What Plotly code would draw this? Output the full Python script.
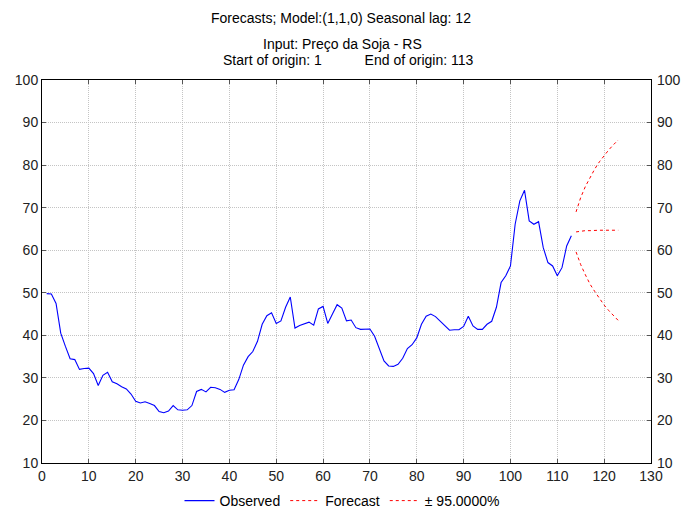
import plotly.graph_objects as go

# Observed series: soybean price (RS), periods 1..113
obs_x = list(range(1, 114))
obs_y = [
    49.8, 49.7, 47.5, 40.5, 37.4, 34.5, 34.3, 32.0, 32.2, 32.3,
    31.0, 28.2, 30.6, 31.3, 29.1, 28.6, 27.9, 27.4, 26.2, 24.5,
    24.1, 24.4, 24.0, 23.5, 22.1, 21.8, 22.2, 23.5, 22.5, 22.4,
    22.5, 23.5, 26.8, 27.3, 26.7, 27.8, 27.7, 27.3, 26.6, 27.1,
    27.2, 29.6, 33.0, 35.0, 36.2, 38.6, 42.6, 44.6, 45.3, 42.8,
    43.4, 46.6, 49.0, 41.7, 42.3, 42.7, 43.1, 42.4, 46.2, 46.8,
    42.8, 45.0, 47.2, 46.4, 43.4, 43.6, 41.8, 41.4, 41.4, 41.5,
    39.8, 37.0, 34.0, 32.8, 32.7, 33.2, 34.6, 36.9, 37.8, 39.4,
    42.6, 44.5, 45.0, 44.4, 43.4, 42.4, 41.2, 41.3, 41.3, 42.1,
    44.5, 42.2, 41.4, 41.4, 42.6, 43.3, 46.6, 52.4, 54.0, 56.3,
    66.1, 71.6, 74.1, 66.9, 66.1, 66.7, 60.6, 57.1, 56.3, 54.0,
    55.9, 61.0, 63.4,
]

# Forecast horizon 114..123 with 95% limits
fc_x = list(range(114, 124))
fc_y = [64.3, 64.5, 64.6, 64.6, 64.7, 64.7, 64.7, 64.7, 64.7, 64.7]
fc_upper = [69.0, 72.4, 75.0, 77.2, 79.1, 80.8, 82.3, 83.6, 84.8, 85.9]
fc_lower = [59.6, 56.6, 54.2, 52.0, 50.3, 48.6, 47.1, 45.8, 44.6, 43.5]

x_ticks = list(range(0, 131, 10))
y_ticks = list(range(10, 101, 10))

FONT = "Arial, Liberation Sans, sans-serif"
RED = "#ff0000"
DASH = "3px,3px"
FS = 14

fig = go.Figure()
fig.add_trace(go.Scatter(x=obs_x, y=obs_y, mode="lines", name="Observed",
                         line=dict(color="#0000ff", width=1.1)))
fig.add_trace(go.Scatter(x=fc_x, y=fc_y, mode="lines", name="Forecast",
                         line=dict(color=RED, width=1, dash=DASH)))
fig.add_trace(go.Scatter(x=fc_x, y=fc_upper, mode="lines", name="± 95.0000%",
                         legendgroup="ci",
                         line=dict(color=RED, width=1, dash=DASH)))
fig.add_trace(go.Scatter(x=fc_x, y=fc_lower, mode="lines", name="± 95.0000%",
                         legendgroup="ci", showlegend=False,
                         line=dict(color=RED, width=1, dash=DASH)))
# invisible copy on the right-hand axis so its labels render
fig.add_trace(go.Scatter(x=obs_x, y=obs_y, mode="lines", yaxis="y2",
                         showlegend=False, hoverinfo="skip",
                         line=dict(color="rgba(0,0,0,0)", width=0)))

axis_common = dict(
    showline=True, linecolor="black", linewidth=1,
    ticks="inside", ticklen=4, tickcolor="#555555",
    showgrid=True, gridcolor="#c4c4c4", griddash="1px,1px", gridwidth=1,
    zeroline=False,
    tickfont=dict(family=FONT, size=FS, color="#222222"),
)

fig.update_layout(
    width=684, height=509,
    margin=dict(l=42, r=33, t=80, b=46, autoexpand=False),
    paper_bgcolor="white", plot_bgcolor="white",
    font=dict(family=FONT, size=FS, color="black"),
    xaxis=dict(range=[0, 130], tickvals=x_ticks, mirror="ticks", **axis_common),
    yaxis=dict(range=[10, 100], tickvals=y_ticks, mirror="ticks", **axis_common),
    yaxis2=dict(range=[10, 100], tickvals=y_ticks, overlaying="y", side="right",
                showgrid=False, showline=False, ticks="", zeroline=False,
                ticklabelstandoff=5,
                tickfont=dict(family=FONT, size=FS, color="#222222")),
    legend=dict(orientation="h", x=0.5, xref="container", xanchor="center",
                y=(509 - 501) / 509, yref="container", yanchor="middle",
                font=dict(family=FONT, size=FS), itemwidth=30,
                bgcolor="rgba(0,0,0,0)", tracegroupgap=0),
    showlegend=True,
)

titles = [
    ("Forecasts; Model:(1,1,0) Seasonal lag: 12", 341, 18),
    ("Input: Preço da Soja - RS", 342, 44),
    ("Start of origin: 1           End of origin: 113", 348, 60),
]
for text, px, py in titles:
    fig.add_annotation(text=text, xref="paper", yref="paper",
                       x=(px - 42) / 609, y=(463 - py) / 383,
                       xanchor="center", yanchor="middle", showarrow=False,
                       font=dict(family=FONT, size=FS, color="black"))

fig.write_html("out.html")
